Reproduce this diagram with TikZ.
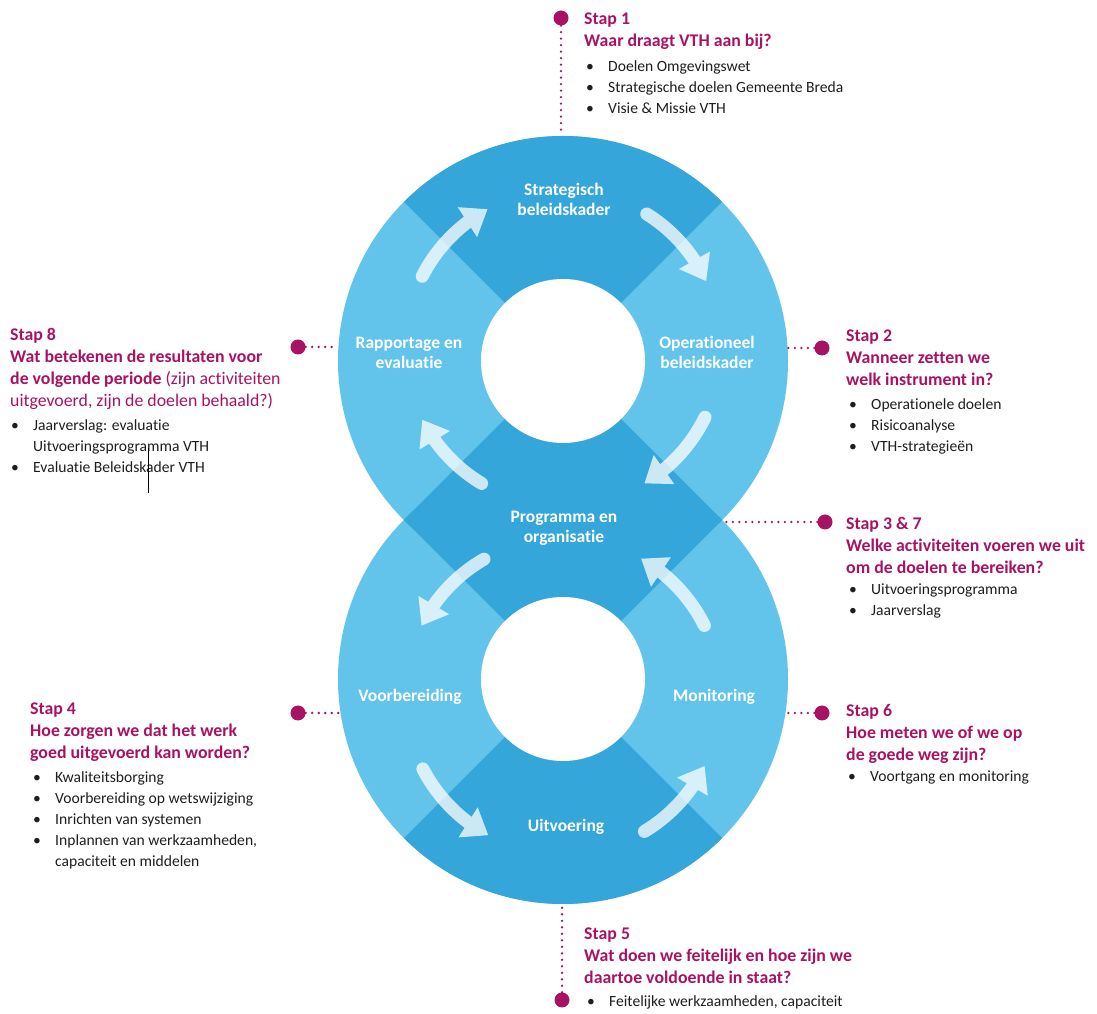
\documentclass[tikz,border=0pt]{standalone}
\usepackage{fontspec}
\setmainfont{Carlito}[Ligatures=NoCommon]
\usetikzlibrary{arrows.meta,bending,positioning}

\definecolor{darkblue}{RGB}{52,166,217}
\definecolor{lightblue}{RGB}{99,196,235}
\definecolor{stapred}{RGB}{168,18,98}
\definecolor{bodytext}{RGB}{30,30,30}

\newcommand{\bul}{\makebox[22pt][l]{\textbullet}}
\newcommand{\bulcont}{\hspace*{22pt}}

\tikzset{
  phase/.style={text=white, font=\fontsize{17.5}{20}\selectfont\bfseries, align=center},
  cyclearrow/.style={white, line width=13pt, line cap=round,
    -{Triangle[width=34pt,length=24pt]}},
  leader/.style={stapred, line width=2.6pt, line cap=round, dash pattern=on 0pt off 6.5pt},
  stapdot/.style={circle, fill=stapred, inner sep=0pt, minimum size=15pt},
  staphead/.style={anchor=north west, inner sep=0pt, align=left, text=stapred,
    font=\fontsize{17.8}{22}\selectfont\bfseries},
  stapitems/.style={anchor=north west, inner sep=0pt, align=left, text=bodytext,
    font=\fontsize{15.6}{21}\selectfont},
}

\begin{document}
\begin{tikzpicture}[x=1pt,y=1pt]
  \useasboundingbox (0,0) rectangle (1097,1014);

  % centres of the two rings and of the arrow circles
  \coordinate (up) at (563,653);
  \coordinate (lo) at (563,335);
  \coordinate (uparr) at (563,666);
  \coordinate (loarr) at (563,318);

  % rings
  \fill[lightblue] (up) circle (225);
  \fill[lightblue] (lo) circle (225);
  \fill[darkblue] (up) -- ++(45:225) arc[start angle=45, end angle=135, radius=225] -- cycle;
  \fill[darkblue] (up) -- ++(225:225) arc[start angle=225, end angle=315, radius=225] -- cycle;
  \fill[darkblue] (lo) -- ++(45:225) arc[start angle=45, end angle=135, radius=225] -- cycle;
  \fill[darkblue] (lo) -- ++(225:225) arc[start angle=225, end angle=315, radius=225] -- cycle;
  \fill[white] (up) circle (82);
  \fill[white] (lo) circle (82);

  % arrows
  \begin{scope}[transparency group, opacity=0.75]
    \draw[cyclearrow] (uparr) ++(58:158) arc[start angle=58, end angle=25, radius=158];
    \draw[cyclearrow] (uparr) ++(-26:158) arc[start angle=-26, end angle=-59, radius=158];
    \draw[cyclearrow] (uparr) ++(239:158) arc[start angle=239, end angle=207, radius=158];
    \draw[cyclearrow] (uparr) ++(153:158) arc[start angle=153, end angle=118.5, radius=158];
    \draw[cyclearrow] (loarr) ++(120:158) arc[start angle=120, end angle=153.6, radius=158];
    \draw[cyclearrow] (loarr) ++(207.5:158) arc[start angle=207.5, end angle=241.8, radius=158];
    \draw[cyclearrow] (loarr) ++(-59:158) arc[start angle=-59, end angle=-26.3, radius=158];
    \draw[cyclearrow] (loarr) ++(26.5:158) arc[start angle=26.5, end angle=60.4, radius=158];
  \end{scope}

  % phases
  \node[phase] (strat) at (564,815) {Strategisch\\beleidskader};
  \node[phase] (oper) at (707,662) {Operationeel\\beleidskader};
  \node[phase] (rapp) at (409,661) {Rapportage en\\evaluatie};
  \node[phase] (prog) at (564,486) {Programma en\\organisatie};
  \node[phase] (voorb) at (410,317) {Voorbereiding};
  \node[phase] (monit) at (714,317) {Monitoring};
  \node[phase] (uitv) at (566,187) {Uitvoering};

  % leaders
  \node[stapdot] (dot1) at (561,996) {};
  \node[stapdot] (dot2) at (822,666) {};
  \node[stapdot] (dot37) at (825,492) {};
  \node[stapdot] (dot4) at (298,301) {};
  \node[stapdot] (dot5) at (562,14) {};
  \node[stapdot] (dot6) at (822,301) {};
  \node[stapdot] (dot8) at (298,667) {};
  \coordinate (edge1) at (561,880);
  \coordinate (edge2) at (787,666);
  \coordinate (edge37) at (724,492);
  \coordinate (edge4) at (341,301);
  \coordinate (edge5) at (562,110);
  \coordinate (edge6) at (785,301);
  \coordinate (edge8) at (338,667);
  \draw[leader] (dot1) -- (edge1);
  \draw[leader] (dot2) -- (edge2);
  \draw[leader] (dot37) -- (edge37);
  \draw[leader] (dot4) -- (edge4);
  \draw[leader] (dot5) -- (edge5);
  \draw[leader] (dot6) -- (edge6);
  \draw[leader] (dot8) -- (edge8);

  % texts
  \node[staphead] (head1) at (584,1001) {Stap 1\\Waar draagt VTH aan bij?};
  \node[stapitems] (items1) at (586,954) {\bul Doelen Omgevingswet\\\bul Strategische doelen Gemeente Breda\\\bul Visie \& Missie VTH};

  \node[staphead] (head2) at (846,684) {Stap 2\\Wanneer zetten we\\welk instrument in?};
  \node[stapitems] (items2) at (849,616) {\bul Operationele doelen\\\bul Risicoanalyse\\\bul VTH-strategieën};

  \node[staphead] (head37) at (846,497) {Stap 3 \& 7\\Welke activiteiten voeren we uit\\om de doelen te bereiken?};
  \node[stapitems] (items37) at (849,430) {\bul Uitvoeringsprogramma\\\bul Jaarverslag};

  \node[staphead] (head6) at (846,310) {Stap 6\\Hoe meten we of we op\\de goede weg zijn?};
  \node[stapitems] (items6) at (848,243) {\bul Voortgang en monitoring};

  \node[staphead] (head5) at (584,86) {Stap 5\\Wat doen we feitelijk en hoe zijn we\\daartoe voldoende in staat?};
  \node[stapitems] (items5) at (587,19) {\bul Feitelijke werkzaamheden, capaciteit};

  \node[staphead] (head8) at (10,686) {Stap 8\\Wat betekenen de resultaten voor\\de volgende periode {\mdseries(zijn activiteiten}\\{\mdseries uitgevoerd, zijn de doelen behaald?)}};
  \node[stapitems] (items8) at (11,595) {\bul Jaarverslag: evaluatie\\\bulcont Uitvoeringsprogramma VTH\\\bul Evaluatie Beleidskader VTH};
  \draw[black, line width=0.8pt] (148,566) -- (148,521);

  \node[staphead] (head4) at (30,311) {Stap 4\\Hoe zorgen we dat het werk\\goed uitgevoerd kan worden?};
  \node[stapitems] (items4) at (33,243) {\bul Kwaliteitsborging\\\bul Voorbereiding op wetswijziging\\\bul Inrichten van systemen\\\bul Inplannen van werkzaamheden,\\\bulcont capaciteit en middelen};
\end{tikzpicture}
\end{document}
